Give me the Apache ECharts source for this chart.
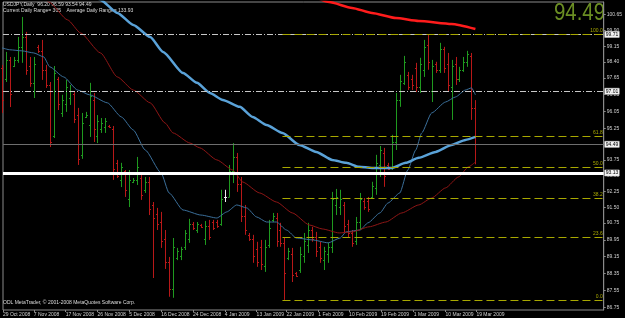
<!DOCTYPE html>
<html>
<head>
<meta charset="utf-8">
<title>USDJPY,Daily</title>
<script src="https://cdn.jsdelivr.net/npm/echarts@6/dist/echarts.min.js"></script>
<style>
  html, body { margin: 0; padding: 0; background: #000; }
  #chart { width: 625px; height: 318px; }
</style>
</head>
<body>
<div id="chart"></div>
<script>
// daily bars, index 0 = 29 Oct 2008 ... 119 = 19 Mar 2009
var opens = [
  98.1, 97.6, 98.5, 98.2, 98.5, 99.1, 99.6, 98.2, 97.4, 99.1,
  98.9, 98.0, 97.3, 94.9, 97.6, 96.0, 96.4, 96.7, 96.9, 95.9,
  94.0, 95.8, 95.4, 96.6, 94.9, 95.2, 95.3, 95.38, 95.2, 93.6,
  92.8, 93.2, 91.9, 92.7, 92.8, 92.9, 92.3, 92.7, 91.6, 91.2,
  90.8, 90.0, 88.9, 87.6, 89.1, 89.2, 89.6, 90.0, 90.7, 90.4,
  90.68, 90.0, 90.6, 90.8, 90.8, 90.7, 91.98, 92.0, 93.2, 93.9,
  92.6, 91.1, 90.2, 90.0, 89.5, 89.6, 88.7, 89.7, 90.9, 91.0,
  90.4, 89.8, 89.1, 89.3, 88.4, 88.5, 89.2, 89.7, 90.4, 90.1,
  89.6, 89.0, 89.3, 89.6, 91.6, 91.5, 91.6, 90.7, 90.3, 89.9,
  90.8, 91.8, 91.8, 92.0, 92.4, 93.5, 94.1, 93.5, 93.4, 94.6,
  96.6, 97.4, 97.8, 97.6, 98.1, 97.2, 98.0, 99.2, 97.0, 98.3,
  98.0, 99.0, 98.3, 97.2, 98.3, 97.6, 98.0, 98.4, 98.7, 96.20
];
var highs = [
  98.26, 98.88, 98.64, 98.64, 99.59, 100.54, 99.83, 98.64, 98.64, 99.21,
  99.45, 98.26, 97.45, 98.21, 97.69, 96.84, 97.55, 97.31, 96.98, 96.22,
  95.98, 96.03, 97.41, 96.93, 95.88, 95.74, 95.74, 95.41, 95.36, 93.75,
  93.61, 93.27, 93.27, 92.89, 93.89, 93.04, 92.94, 92.94, 91.75, 91.47,
  91.28, 90.42, 89.14, 90.04, 89.57, 89.62, 90.42, 90.95, 90.80, 90.80,
  90.71, 90.85, 90.90, 90.90, 90.90, 92.33, 92.33, 93.51, 94.55, 94.08,
  92.94, 91.61, 90.28, 90.19, 89.86, 89.95, 89.95, 90.90, 91.23, 91.23,
  90.76, 90.04, 89.57, 89.57, 88.43, 89.62, 90.28, 90.76, 90.57, 90.33,
  89.86, 89.62, 89.81, 92.23, 92.37, 92.33, 91.75, 90.90, 90.42, 91.04,
  92.18, 91.94, 91.99, 92.71, 93.99, 94.41, 94.32, 93.61, 94.94, 96.93,
  97.79, 98.69, 97.93, 97.79, 98.36, 98.60, 99.45, 99.71, 98.50, 98.41,
  99.31, 99.12, 98.83, 98.50, 98.64, 98.17, 98.64, 98.93, 98.83, 96.59
];
var lows = [
  95.98, 97.45, 96.26, 98.16, 98.36, 98.36, 97.79, 97.22, 96.69, 98.83,
  97.55, 97.17, 94.36, 94.79, 96.12, 95.79, 96.03, 96.36, 95.50, 93.51,
  93.80, 95.74, 94.84, 94.60, 94.55, 95.03, 95.03, 95.27, 92.80, 92.89,
  92.46, 91.99, 91.51, 92.65, 92.56, 91.85, 92.18, 91.13, 88.14, 90.42,
  89.57, 88.57, 87.25, 87.20, 88.99, 88.99, 89.47, 89.81, 90.42, 90.28,
  90.52, 89.71, 89.95, 90.42, 90.52, 90.62, 91.75, 91.99, 92.65, 92.23,
  90.80, 90.19, 89.90, 88.86, 88.67, 88.52, 88.43, 89.57, 90.80, 89.62,
  89.62, 87.10, 88.99, 87.95, 88.19, 88.38, 88.86, 89.33, 89.86, 89.14,
  88.86, 88.52, 88.86, 89.33, 91.13, 91.13, 90.28, 90.04, 89.62, 89.71,
  90.42, 91.38, 91.28, 91.94, 92.09, 92.94, 92.47, 93.27, 93.27, 94.22,
  96.27, 97.31, 97.07, 97.07, 96.98, 96.93, 97.69, 98.03, 96.50, 97.88,
  97.88, 97.88, 96.98, 95.65, 97.31, 97.45, 97.93, 98.17, 95.65, 93.54
];
var closes = [
  96.6, 98.5, 96.9, 98.5, 99.1, 99.6, 98.0, 97.4, 98.3, 98.9,
  98.0, 97.3, 94.6, 97.9, 96.4, 96.6, 97.2, 97.0, 95.7, 93.8,
  95.5, 95.9, 96.8, 95.2, 95.6, 95.5, 95.6, 95.3, 93.3, 93.0,
  93.4, 92.3, 92.8, 92.8, 93.4, 92.1, 92.7, 91.4, 91.0, 90.7,
  89.9, 88.9, 87.6, 89.6, 89.4, 89.5, 90.3, 90.7, 90.5, 90.7,
  90.55, 90.6, 90.1, 90.5, 90.6, 91.9, 91.98, 93.2, 93.9, 92.6,
  91.1, 90.4, 90.0, 89.2, 88.9, 88.8, 89.6, 90.5, 91.1, 89.9,
  89.8, 88.4, 89.4, 88.3, 88.25, 89.3, 89.9, 90.4, 90.0, 89.4,
  89.1, 89.4, 89.6, 91.9, 92.0, 91.9, 90.6, 90.3, 89.8, 90.8,
  91.9, 91.5, 91.4, 92.5, 93.6, 94.2, 93.0, 93.3, 94.6, 96.6,
  97.5, 98.4, 97.2, 97.3, 97.2, 98.3, 99.1, 98.4, 98.2, 98.0,
  99.0, 98.1, 97.3, 98.2, 97.6, 98.0, 98.4, 98.8, 96.2, 94.49
];

// moving averages as [bar index, price]
var maFast = [
  [0, 99.07], [2, 98.98], [5, 98.93], [8, 98.83], [10.5, 98.64], [12, 98.17],
  [15.5, 97.69], [19, 97.07], [22, 96.84], [26.5, 96.46], [30, 95.79], [33, 95.17],
  [36, 94.22], [40, 93.13], [42, 92.18], [45.5, 91.37], [50, 91.13], [54, 90.99],
  [56.5, 91.28], [59, 91.61], [61.5, 91.47], [64, 91.04], [66.5, 90.80], [69, 90.80],
  [71.5, 90.42], [74, 90.04], [78, 89.95], [82, 89.81], [85, 90.04], [86.5, 90.33],
  [90, 90.42], [92, 90.76], [95, 91.23], [97, 91.70], [100, 92.18], [102, 93.27],
  [104, 94.22], [105.5, 95.03], [108, 95.98], [111.5, 96.50], [114, 96.74],
  [116.5, 97.07], [118, 97.17], [119, 96.84]
];
var maMid = [
  [9.75, 101.63], [11.75, 101.25], [16.5, 100.40], [19.75, 99.78], [24.75, 98.83],
  [29, 97.69], [33, 97.07], [37.25, 96.46], [41, 95.50], [43, 95.03], [47.25, 94.55],
  [49.75, 94.32], [54, 93.75], [58, 93.27], [60.5, 92.70], [64.75, 92.18], [69, 91.75],
  [73, 91.23], [77.25, 90.66], [80.5, 90.47], [84.75, 90.28], [88, 90.33], [92.25, 90.57],
  [96.5, 90.80], [100.5, 91.23], [104.75, 91.61], [108, 91.94], [111.5, 92.42],
  [114.75, 92.94], [117.25, 93.42], [119, 93.65]
];
var maSlow = [
  [22.25, 101.73], [24.75, 101.35], [29, 100.73], [33, 100.16], [37.25, 99.59],
  [40.5, 98.88], [45.5, 97.88], [49, 97.41], [52.25, 96.93], [55.5, 96.60],
  [59.75, 96.27], [63, 95.79], [66.5, 95.41], [70.5, 95.03], [74.75, 94.46], [79, 94.13],
  [83, 93.75], [86.5, 93.61], [89.75, 93.42], [93, 93.37], [98, 93.37], [101.5, 93.61],
  [104.75, 93.85], [109, 94.13], [113, 94.46], [116.5, 94.70], [119, 94.84]
];
var maLong = [
  [77.25, 101.63], [82.25, 101.25], [88, 100.97], [93, 100.73], [99, 100.49],
  [104.75, 100.35], [113, 100.21], [119, 99.97]
];

var fibLabels = ['100.0', '61.8', '50.0', '38.2', '23.6', '0.0'];
var fibPrices = [99.71, 94.89, 93.41, 91.92, 90.08, 87.10];
var fibStart = 70.5;

var dateLabels = ['29 Oct 2008', '7 Nov 2008', '17 Nov 2008', '26 Nov 2008', '5 Dec 2008',
  '16 Dec 2008', '24 Dec 2008', '4 Jan 2009', '13 Jan 2009', '22 Jan 2009', '1 Feb 2009',
  '10 Feb 2009', '19 Feb 2009', '1 Mar 2009', '10 Mar 2009', '19 Mar 2009'];
var dateTicks = [0.25, 8, 16, 24, 32, 40, 48, 56, 64, 71.5, 79.5, 87.25, 95.25, 103.5, 111.5, 119.25];
var priceTicks = [100.65, 99.90, 99.15, 98.40, 97.65, 96.85, 96.05, 95.25, 93.75, 93.00,
  92.25, 91.50, 90.75, 89.95, 89.15, 88.35, 87.55, 86.75];

var font = '"Liberation Sans", Arial, sans-serif';
var up = '#1f9a1f', down = '#b81818', olive = '#a8a800';

var bars = [];
for (var i = 0; i < closes.length; i++) {
  bars.push([i, opens[i], highs[i], lows[i], closes[i]]);
}
var last = closes.length - 1;

function renderBar(params, api) {
  var x = api.value(0);
  var o = api.value(1), c = api.value(4);
  var h = api.coord([x, api.value(2)]);
  var l = api.coord([x, api.value(3)]);
  var yo = Math.round(api.coord([x, o])[1]) + 0.5;
  var yc = Math.round(api.coord([x, c])[1]) + 0.5;
  var cx = Math.round(h[0]) + 0.5;
  var color = c > o ? up : (c < o ? down : '#f0f0f0');
  var st = { stroke: color, lineWidth: 1 };
  return {
    type: 'group',
    children: [
      { type: 'line', shape: { x1: cx, y1: h[1], x2: cx, y2: l[1] }, style: st },
      { type: 'line', shape: { x1: cx - 1.5, y1: yo, x2: cx, y2: yo }, style: st },
      { type: 'line', shape: { x1: cx, y1: yc, x2: cx + 1.5, y2: yc }, style: st }
    ]
  };
}

function boxLabel(text) {
  return {
    show: true, position: 'end', distance: 1, formatter: text,
    color: '#000', backgroundColor: '#f2f2f2', borderColor: '#777', borderWidth: 0.5,
    padding: [1, 1, 0, 1], fontSize: 5, fontFamily: font
  };
}

var levelLines = [
  { yAxis: 99.71, lineStyle: { color: '#c8c8c8', width: 1, type: [6, 2, 1, 2] }, label: boxLabel('99.71') },
  { yAxis: 97.01, lineStyle: { color: '#c8c8c8', width: 1, type: [6, 2, 1, 2] }, label: boxLabel('97.01') },
  { yAxis: closes[last], lineStyle: { color: '#6e6e6e', width: 1, type: 'solid' }, label: boxLabel(closes[last].toFixed(2)) },
  { yAxis: 93.13, lineStyle: { color: '#ffffff', width: 3, type: 'solid' }, label: boxLabel('93.13') }
];
fibPrices.forEach(function(p, k) {
  levelLines.push([
    { coord: [fibStart, p], lineStyle: { color: olive, width: 1, type: [8, 4] },
      label: { show: true, position: 'insideEndTop', distance: 1, formatter: fibLabels[k],
        color: olive, fontSize: 5, fontFamily: font } },
    { coord: [151.25, p] }
  ]);
});

function maSeries(data, color, width) {
  return {
    type: 'line', data: data, showSymbol: false, smooth: 0.2, smoothMonotone: 'x', z: 3,
    lineStyle: { color: color, width: width }, silent: true
  };
}

var chart = echarts.init(document.getElementById('chart'), null, { renderer: 'canvas' });
chart.setOption({
  animation: false,
  backgroundColor: '#000',
  grid: { left: 2, right: 19, top: 2, bottom: 8, show: true, borderColor: '#8a8a8a', borderWidth: 1, backgroundColor: '#000' },
  xAxis: {
    type: 'value', min: 0.25, max: 151.25,
    axisLine: { show: false },
    splitLine: { show: false },
    axisTick: { show: true, customValues: dateTicks, length: 2, lineStyle: { color: '#8a8a8a' } },
    axisLabel: {
      customValues: dateTicks, align: 'left', margin: 2, color: '#d0d0d0', fontSize: 5, fontFamily: font,
      formatter: function(v) { var k = dateTicks.indexOf(v); return k < 0 ? '' : dateLabels[k]; }
    }
  },
  yAxis: {
    type: 'value', position: 'right', min: 86.62, max: 101.25,
    axisLine: { show: true, lineStyle: { color: '#8a8a8a' } },
    splitLine: { show: false },
    axisTick: { show: true, customValues: priceTicks, length: 2, lineStyle: { color: '#8a8a8a' } },
    axisLabel: {
      customValues: priceTicks, margin: 3, color: '#d0d0d0', fontSize: 5, fontFamily: font,
      formatter: function(v) { return v.toFixed(2); }
    }
  },
  series: [
    { type: 'custom', renderItem: renderBar, data: bars, z: 2, silent: true,
      encode: { x: 0, y: [1, 2, 3, 4] } },
    maSeries(maFast, '#3b6f9a', 1),
    maSeries(maMid, '#8e1616', 1),
    maSeries(maSlow, '#5aa2d8', 2.5),
    maSeries(maLong, '#ff1c1c', 2.5),
    {
      type: 'line', data: [], z: 4, silent: true,
      markLine: { symbol: 'none', silent: true, animation: false, data: levelLines }
    }
  ],
  graphic: [
    { type: 'text', x: 3, y: 2, silent: true,
      style: { text: 'USDJPY,Daily  ' + opens[last].toFixed(2) + ' ' + highs[last].toFixed(2) + ' ' +
        lows[last].toFixed(2) + ' ' + closes[last].toFixed(2), fill: '#dcdcdc', font: '5px ' + font } },
    { type: 'text', x: 3, y: 8, silent: true,
      style: { text: 'Current Daily Range= 305    Average Daily Range= 133.93', fill: '#dcdcdc', font: '5px ' + font } },
    { type: 'text', x: 3, y: 300, silent: true,
      style: { text: 'ODL MetaTrader, \u00a9 2001-2008 MetaQuotes Software Corp.', fill: '#dcdcdc', font: '5px ' + font } },
    { type: 'text', x: 605, y: 1, scaleX: 0.85, silent: true,
      style: { text: closes[last].toFixed(2), fill: '#6b8e23', font: '24px ' + font, align: 'right', verticalAlign: 'top' } }
  ]
});
</script>
</body>
</html>
